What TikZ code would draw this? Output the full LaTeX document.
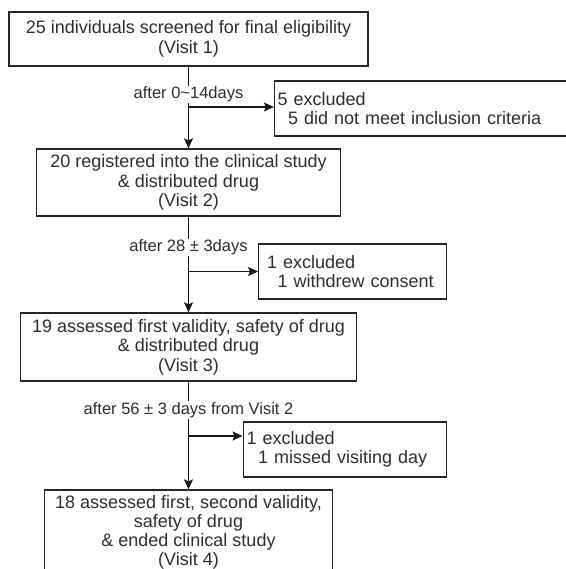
\documentclass[tikz,border=0pt]{standalone}
\usepackage{fontspec}
\setmainfont{Liberation Sans}
\usetikzlibrary{arrows.meta,calc}
\begin{document}
\begin{tikzpicture}[x=1pt,y=-1pt,
  box/.style={draw=black!85, line width=1.3pt, align=center, inner sep=0pt,
    font=\fontsize{18}{19.5}\selectfont, text=black!82},
  excl/.style={draw=black!85, line width=1.3pt, align=left, inner ysep=0pt,
    minimum height=55pt, anchor=west, font=\fontsize{18}{19.5}\selectfont, text=black!82},
  lbl/.style={fill=white, inner sep=1pt, font=\fontsize{16.5}{18}\selectfont, text=black!82},
  arr/.style={draw=black!90, line width=1.5pt, -{Stealth[length=10pt,width=9pt,inset=2pt]}}]
\useasboundingbox (0,0) rectangle (565,569);
% main boxes
\node[box, minimum width=359pt, minimum height=54pt] (b1) at (188.5,39)
  {25 individuals screened for final eligibility\\(Visit 1)};
\node[box, minimum width=304pt, minimum height=67pt] (b2) at (188.5,182.5)
  {20 registered into the clinical study\\\& distributed drug\\(Visit 2)};
\node[box, minimum width=336pt, minimum height=68pt] (b3) at (188.5,347)
  {19 assessed first validity, safety of drug\\\& distributed drug\\(Visit 3)};
\node[box, minimum width=287.5pt, minimum height=85pt,
  font=\fontsize{18}{19}\selectfont] (b4) at (188.5,532.5)
  {18 assessed first, second validity,\\safety of drug\\\& ended clinical study\\(Visit 4)};
% excluded boxes
\node[excl, inner xsep=3pt, text width=294pt] (e1) at (273.9,108.5)
  {5 excluded\\\hspace*{10.5pt}5 did not meet inclusion criteria};
\node[excl, inner xsep=8.5pt, text width=170.8pt] (e2) at (258,271.5)
  {1 excluded\\\hspace*{10.5pt}1 withdrew consent};
\node[excl, inner xsep=3.5pt, text width=196.3pt] (e3) at (242.5,449.5)
  {1 excluded\\\hspace*{11.5pt}1 missed visiting day};
% connectors
\coordinate (t1) at ([yshift=1.5pt]e1.west);
\coordinate (t2) at (e2.west);
\coordinate (t3) at ([yshift=13.5pt]e3.west);
\draw[arr] (b1) -- (b2);
\draw[arr] (b2) -- (b3);
\draw[arr] (b3) -- (b4);
\draw[arr] (b1.south |- t1) -- (t1);
\draw[arr] (b2.south |- t2) -- (t2);
\draw[arr] (b3.south |- t3) -- (t3);
% labels on the spine
\node[lbl] (l1) at (188.5,94.3) {after 0\textasciitilde14days};
\node[lbl] (l2) at (188.5,247.3) {after 28 ± 3days};
\node[lbl] (l3) at (188.5,410) {after 56 ± 3 days from Visit 2};
\end{tikzpicture}
\end{document}
